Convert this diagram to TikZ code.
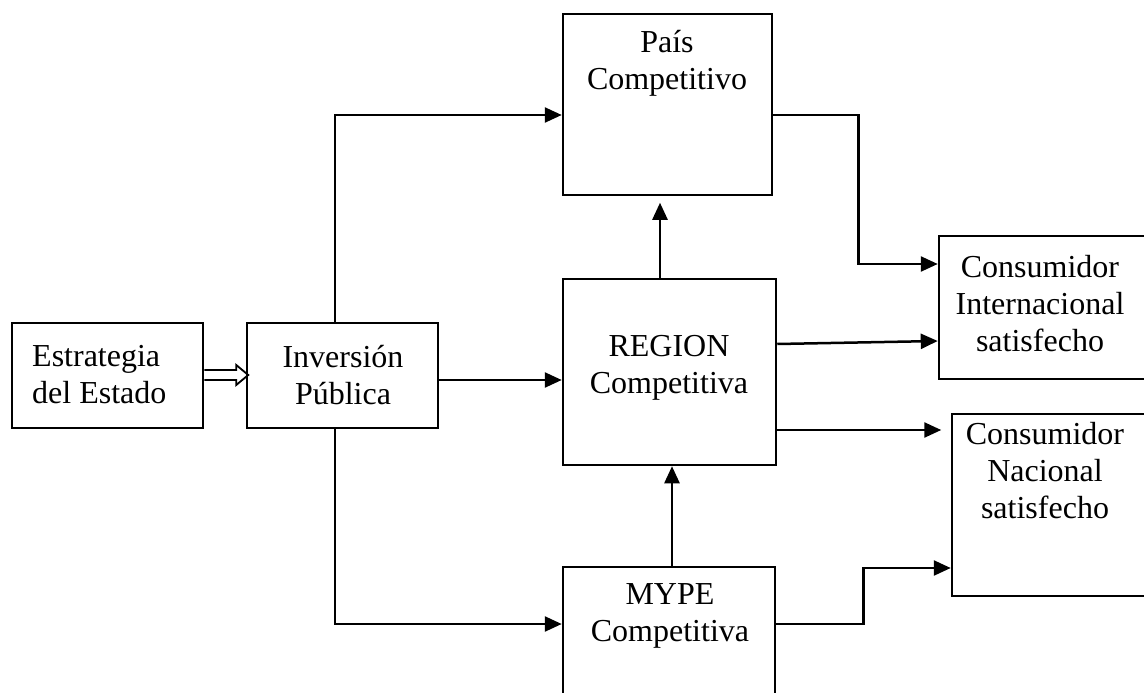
\documentclass[tikz,border=0pt]{standalone}
\usepackage{fontspec}
\setmainfont{Liberation Serif}
\usetikzlibrary{calc,arrows.meta}
\begin{document}
\begin{tikzpicture}[x=1pt,y=-1pt,
  box/.style={draw, line width=2.5pt, inner sep=0pt, anchor=center},
  txt/.style={font=\fontsize{32}{37}\selectfont, align=center, inner sep=0pt},
  conn/.style={line width=2.5pt},
  arr/.style={conn, -{Triangle[length=17pt,width=15pt]}}]
\clip (0,0) rectangle (1144,693);
% boxes
\node[box, minimum width=191pt, minimum height=105pt] (est) at (107.5,375.5) {};
\node[box, minimum width=191pt, minimum height=105pt] (inv) at (342.5,375.5) {};
\node[box, minimum width=209pt, minimum height=181pt] (pais) at (667.5,104.5) {};
\node[box, minimum width=213pt, minimum height=186pt] (region) at (669.5,372) {};
\node[box, minimum width=212pt, minimum height=163pt] (mype) at (669,648.5) {};
\node[box, minimum width=211pt, minimum height=143pt] (ci) at (1044.5,307.5) {};
\node[box, minimum width=198pt, minimum height=182pt] (cn) at (1051,505) {};
% texts
\node[txt, anchor=west, align=left] (estt) at (32,375) {Estrategia\\del Estado};
\node[txt] (invt) at (343,375) {Inversión\\Pública};
\node[txt] (paist) at (667,63) {País\\Competitivo};
\node[txt] (regiont) at (669,368) {REGION\\Competitiva};
\node[txt] (mypet) at (670,616) {MYPE\\Competitiva};
\node[txt] (cit) at (1040,304) {Consumidor\\Internacional\\satisfecho};
\node[txt] (cnt) at (1045,471) {Consumidor\\Nacional\\satisfecho};
% hollow arrow
\draw[line width=1.8pt, line join=miter] ($(est.east)+(0,-5.5)$) -- ++(32,0) -- ++(0,-5) -- ++(12,10) -- ++(-12,10) -- ++(0,-5) -- ++(-32,0);
% connectors
\draw[arr] ($(inv.north)+(-7.5,0)$) |- ($(pais.west)+(0,10.5)$);
\draw[arr] ($(inv.south)+(-7.5,0)$) |- ($(mype.west)+(0,-24.5)$);
\draw[arr] ($(inv.east)+(0,4.5)$) -- ($(region.west)+(0,8)$);
\draw[arr] ($(pais.east)+(0,10.5)$) -- ++(85,0) |- ($(ci.west)+(0,-43.5)$);
\draw[arr] ($(region.north)+(-9.5,0)$) -- ++(0,-75);
\draw[arr] ($(region.east)+(0,-28)$) -- ($(ci.west)+(0,33.5)$);
\draw[arr] ($(region.east)+(0,58)$) -- ++(164,0);
\draw[arr] ($(mype.north)+(3,0)$) -- ($(region.south)+(2.5,0)$);
\draw[arr] ($(mype.east)+(0,-24.5)$) -- ++(87,0) |- ($(cn.west)+(0,63)$);
\end{tikzpicture}
\end{document}
